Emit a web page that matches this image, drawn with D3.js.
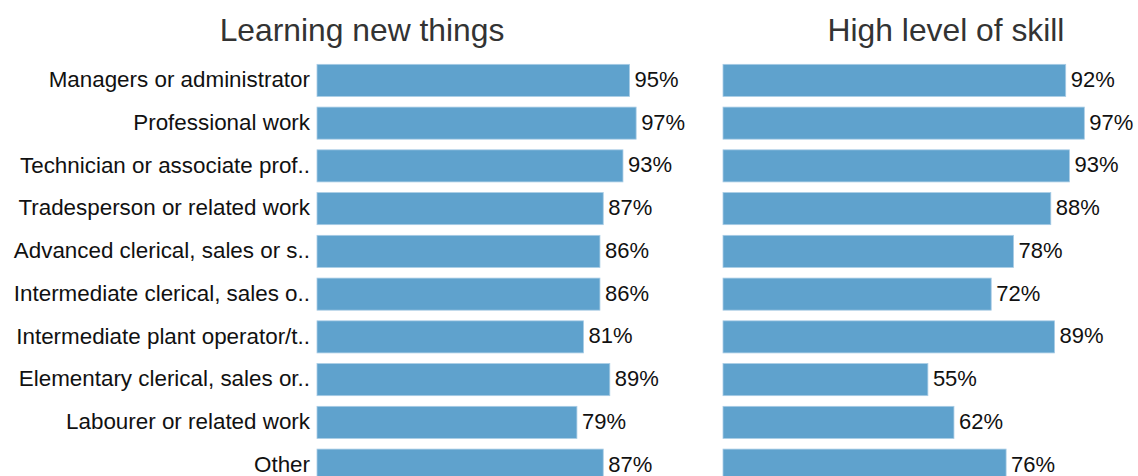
<!DOCTYPE html>
<html>
<head>
<meta charset="utf-8">
<script src="https://cdn.jsdelivr.net/npm/d3@7"></script>
<style>
  html, body { margin: 0; padding: 0; background: #fff; }
  svg { display: block; font-family: "Liberation Sans", Arial, Helvetica, sans-serif; }
</style>
</head>
<body>
<svg id="chart" width="1138" height="476"></svg>
<script>
const categories = [
  "Managers or administrator",
  "Professional work",
  "Technician or associate prof..",
  "Tradesperson or related work",
  "Advanced clerical, sales or s..",
  "Intermediate clerical, sales o..",
  "Intermediate plant operator/t..",
  "Elementary clerical, sales or..",
  "Labourer or related work",
  "Other"
];
const learningNewThings = [95, 97, 93, 87, 86, 86, 81, 89, 79, 87];
const highLevelOfSkill = [92, 97, 93, 88, 78, 72, 89, 55, 62, 76];
const panelTitles = ["Learning new things", "High level of skill"];

const svg = d3.select("#chart");
const barColor = "#5fa2cd";

const y = d3.scaleBand()
  .domain(categories)
  .range([59, 486.5])
  .paddingInner(0.25)
  .paddingOuter(0.125);

const panels = [
  { title: panelTitles[0], values: learningNewThings, x: d3.scaleLinear().domain([0, 100]).range([317, 646]), titleX: 362 },
  { title: panelTitles[1], values: highLevelOfSkill, x: d3.scaleLinear().domain([0, 100]).range([723, 1095.5]), titleX: 946 }
];

// category labels (left only)
svg.append("g")
  .selectAll("text")
  .data(categories)
  .join("text")
  .attr("x", 310)
  .attr("y", d => y(d) + y.bandwidth() / 2)
  .attr("dy", "0.3em")
  .attr("text-anchor", "end")
  .attr("font-size", 22.4)
  .attr("fill", "#111")
  .text(d => d);

panels.forEach(p => {
  const g = svg.append("g");
  g.append("text")
    .attr("x", p.titleX)
    .attr("y", 41)
    .attr("text-anchor", "middle")
    .attr("font-size", 31.8)
    .attr("fill", "#333")
    .text(p.title);

  const rows = categories.map((c, i) => ({ c, v: p.values[i] }));

  g.selectAll("rect")
    .data(rows)
    .join("rect")
    .attr("x", p.x(0))
    .attr("y", d => y(d.c))
    .attr("width", d => p.x(d.v) - p.x(0))
    .attr("height", y.bandwidth())
    .attr("fill", barColor)
    .attr("stroke", "#a8cce5")
    .attr("stroke-width", 0.8);

  g.selectAll("text.val")
    .data(rows)
    .join("text")
    .attr("class", "val")
    .attr("x", d => p.x(d.v) + 5)
    .attr("y", d => y(d.c) + y.bandwidth() / 2)
    .attr("dy", "0.3em")
    .attr("font-size", 22)
    .attr("fill", "#111")
    .text(d => d.v + "%");
});
</script>
</body>
</html>
